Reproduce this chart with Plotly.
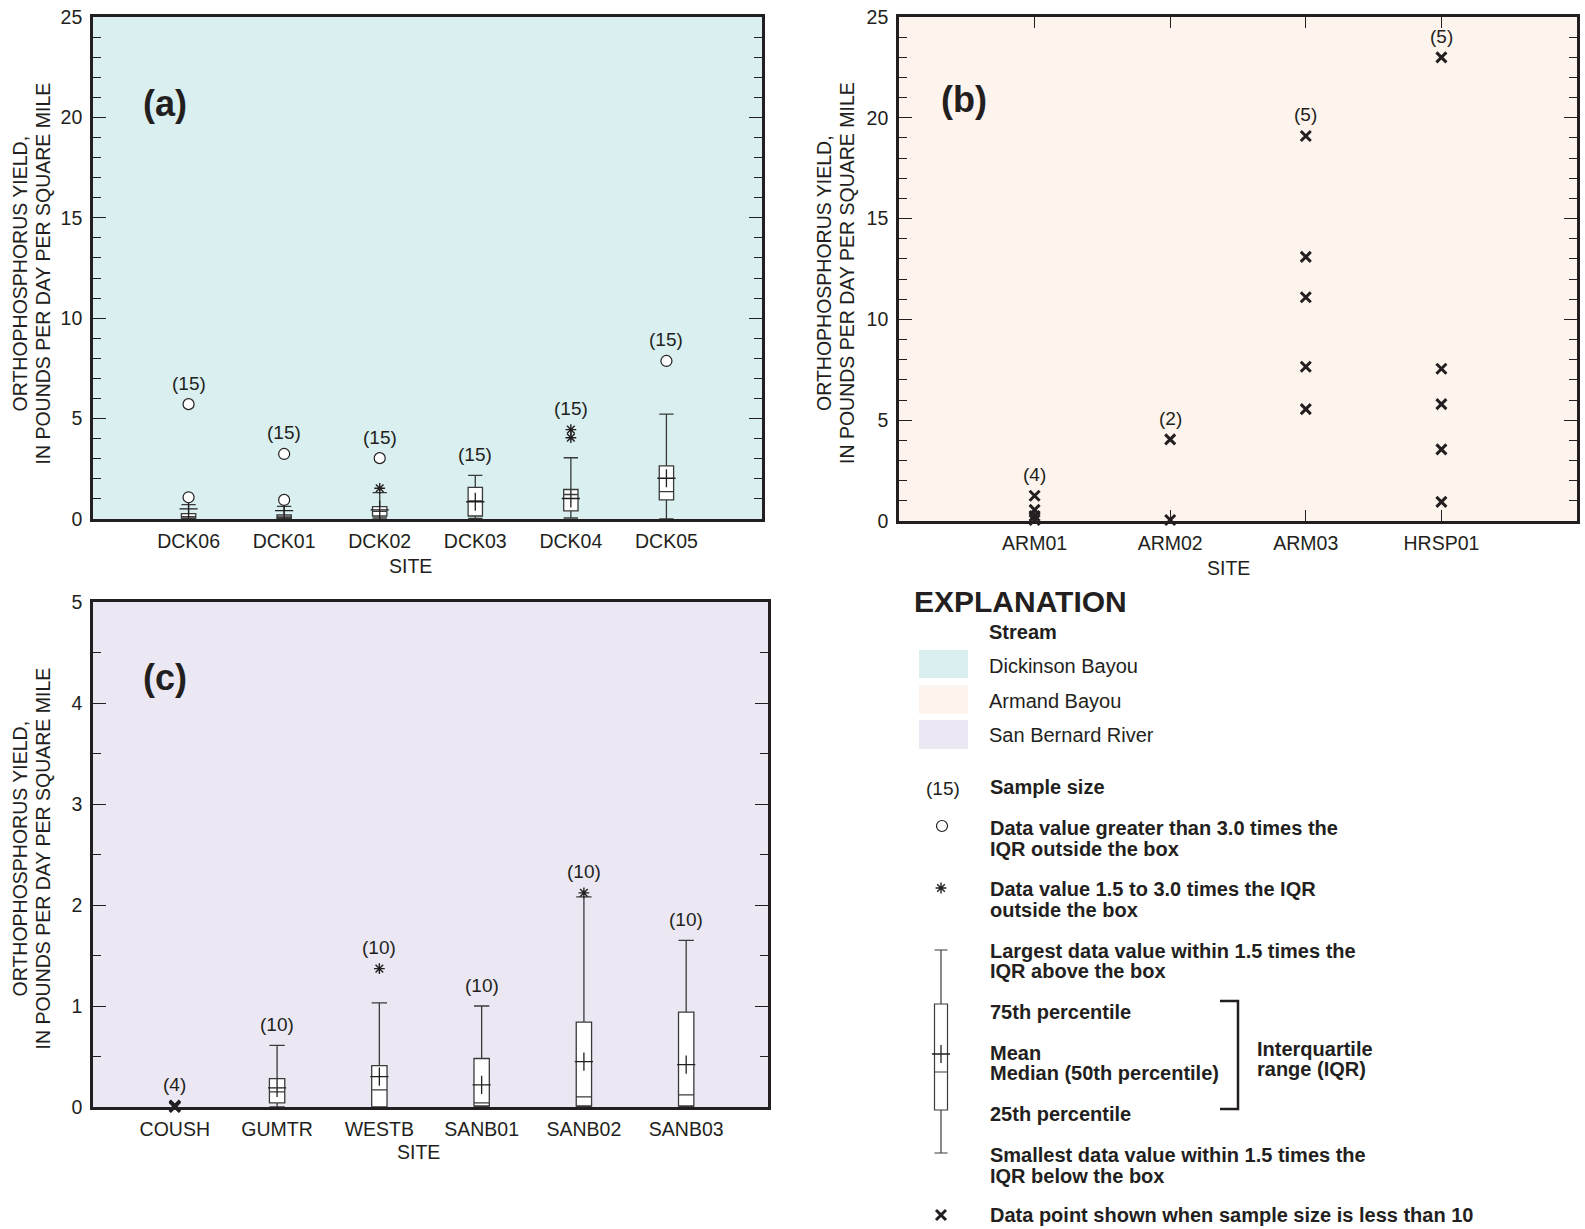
import plotly.graph_objects as go

W, H = 1585, 1229

# ---------------- Dickinson Bayou, panel (a) ----------------
dck_sites = ["DCK06", "DCK01", "DCK02", "DCK03", "DCK04", "DCK05"]
dck_n = [15, 15, 15, 15, 15, 15]
dck_q1 = [0.04, 0.03, 0.15, 0.15, 0.40, 0.95]
dck_median = [0.12, 0.10, 0.38, 0.90, 1.22, 1.36]
dck_q3 = [0.27, 0.20, 0.62, 1.57, 1.47, 2.65]
dck_mean = [0.50, 0.42, 0.45, 0.86, 1.02, 2.03]
dck_low = [0.0, 0.0, 0.05, 0.03, 0.05, 0.0]
dck_high = [0.72, 0.63, 1.31, 2.17, 3.05, 5.22]
# values more than 3.0 IQR outside the box
dck_far_site = ["DCK06", "DCK06", "DCK01", "DCK01", "DCK02", "DCK05"]
dck_far_val = [5.72, 1.08, 3.24, 0.95, 3.03, 7.87]
# values 1.5 to 3.0 IQR outside the box
dck_near_site = ["DCK02", "DCK04", "DCK04"]
dck_near_val = [1.53, 4.45, 4.05]

# ---------------- Armand Bayou, panel (b) ----------------
arm_sites = ["ARM01", "ARM02", "ARM03", "HRSP01"]
arm_n = [4, 2, 5, 5]
arm01_vals = [1.25, 0.55, 0.25, 0.05]
arm02_vals = [4.05, 0.05]
arm03_vals = [19.1, 13.1, 11.1, 7.65, 5.55]
hrsp01_vals = [23.0, 7.55, 5.8, 3.55, 0.95]

# ---------------- San Bernard River, panel (c) ----------------
sb_sites = ["COUSH", "GUMTR", "WESTB", "SANB01", "SANB02", "SANB03"]
sb_n = [4, 10, 10, 10, 10, 10]
sb_box_sites = ["GUMTR", "WESTB", "SANB01", "SANB02", "SANB03"]
sb_q1 = [0.04, 0.0, 0.01, 0.01, 0.01]
sb_median = [0.15, 0.17, 0.04, 0.10, 0.12]
sb_q3 = [0.28, 0.41, 0.48, 0.84, 0.94]
sb_mean = [0.19, 0.30, 0.22, 0.45, 0.42]
sb_low = [0.0, 0.0, 0.0, 0.0, 0.0]
sb_high = [0.61, 1.03, 1.00, 2.08, 1.65]
sb_near_site = ["WESTB", "SANB02"]
sb_near_val = [1.37, 2.12]
coush_vals = [0.015, 0.01, 0.005, 0.0]

# ---------------- explanation key (page pixel units) ----------------
key_x = 941
key_low, key_q1, key_median, key_mean, key_q3, key_high = 1153, 1110, 1072, 1054, 1004, 950

FONT = "Liberation Sans, Arial, Helvetica, sans-serif"
INK = "#231f20"
BOX_LINE = "#3a3a3a"
BG = {"a": "#d9eff0", "b": "#fef4ee", "c": "#ebe8f3"}


def py(pix):
    """Convert a page pixel row (from the top) to the key axis value."""
    return H - pix


fig = go.Figure()


def add_boxes(xa, ya, sites, q1, med, q3, low, high, width):
    fig.add_trace(go.Box(
        x=sites, q1=q1, median=med, q3=q3, lowerfence=low, upperfence=high,
        boxpoints=False, width=width, whiskerwidth=1.0,
        fillcolor="white", line=dict(color=BOX_LINE, width=1.3),
        xaxis=xa, yaxis=ya, hoverinfo="skip", showlegend=False,
    ))


def add_marks(xa, ya, xs, ys, symbol, size, lw, fill=INK):
    fig.add_trace(go.Scatter(
        x=xs, y=ys, mode="markers", cliponaxis=False,
        marker=dict(symbol=symbol, size=size, color=fill,
                    line=dict(color=INK, width=lw)),
        xaxis=xa, yaxis=ya, hoverinfo="skip", showlegend=False,
    ))


def add_means(xa, ya, xs, ys):
    add_marks(xa, ya, xs, ys, "cross-thin", 13, 1.3)


def add_counts(xa, ya, sites, tops, ns):
    for s, t, n in zip(sites, tops, ns):
        fig.add_annotation(x=s, y=t, xref=xa, yref=ya, text=f"({n})",
                           showarrow=False, yshift=21,
                           font=dict(family=FONT, size=19, color=INK))


# panel (a)
add_boxes("x", "y", dck_sites, dck_q1, dck_median, dck_q3, dck_low, dck_high, 0.15)
add_means("x", "y", dck_sites, dck_mean)
add_marks("x", "y", dck_far_site, dck_far_val, "circle", 11, 1.2, fill="white")
add_marks("x", "y", dck_near_site, dck_near_val, "asterisk", 9, 1.4)
dck_top = []
for s, h in zip(dck_sites, dck_high):
    others = [v for ss, v in zip(dck_far_site + dck_near_site, dck_far_val + dck_near_val) if ss == s]
    dck_top.append(max([h] + others))
add_counts("x", "y", dck_sites, dck_top, dck_n)

# panel (b)
arm_groups = [arm01_vals, arm02_vals, arm03_vals, hrsp01_vals]
for s, vals in zip(arm_sites, arm_groups):
    add_marks("x2", "y2", [s] * len(vals), vals, "x-thin", 10, 3)
add_counts("x2", "y2", arm_sites, [max(v) for v in arm_groups], arm_n)

# panel (c)
add_boxes("x3", "y3", sb_box_sites, sb_q1, sb_median, sb_q3, sb_low, sb_high, 0.15)
add_means("x3", "y3", sb_box_sites, sb_mean)
add_marks("x3", "y3", sb_near_site, sb_near_val, "asterisk", 9, 1.4)
add_marks("x3", "y3", ["COUSH"] * len(coush_vals), coush_vals, "x-thin", 10, 3)
sb_top = [max(coush_vals)]
for s, h in zip(sb_box_sites, sb_high):
    others = [v for ss, v in zip(sb_near_site, sb_near_val) if ss == s]
    sb_top.append(max([h] + others))
add_counts("x3", "y3", sb_sites, sb_top, sb_n)

# explanation key drawn on a page-sized hidden axis
fig.add_trace(go.Box(
    x=[key_x], q1=[py(key_q1)], median=[py(key_median)], q3=[py(key_q3)],
    lowerfence=[py(key_low)], upperfence=[py(key_high)],
    boxpoints=False, width=13, whiskerwidth=1.0,
    fillcolor="white", line=dict(color=BOX_LINE, width=1.2),
    xaxis="x4", yaxis="y4", hoverinfo="skip", showlegend=False,
))
add_means("x4", "y4", [key_x], [py(key_mean)])
add_marks("x4", "y4", [942], [py(826)], "circle", 11, 1.2, fill="white")
add_marks("x4", "y4", [941], [py(888)], "asterisk", 9, 1.4)
add_marks("x4", "y4", [941], [py(1215)], "x-thin", 10, 3)


def text(x, ypix, s, size=20, bold=False, anchor="left", angle=0):
    fig.add_annotation(
        x=x, y=py(ypix), xref="x4", yref="y4", text=f"<b>{s}</b>" if bold else s,
        showarrow=False, xanchor=anchor, yanchor="middle", textangle=angle,
        font=dict(family=FONT, size=size, color=INK),
    )


# y-axis titles and site labels
for cx1, cx2, cy in [(19.5, 42.5, 274), (824, 847, 273), (19.5, 42.5, 859)]:
    text(cx1, cy, "ORTHOPHOSPHORUS YIELD,", size=19.5, anchor="center", angle=-90)
    text(cx2, cy, "IN POUNDS PER DAY PER SQUARE MILE", size=19.5, anchor="center", angle=-90)
text(410, 566, "SITE", size=19.5, anchor="center")
text(1228, 568, "SITE", size=19.5, anchor="center")
text(418, 1152, "SITE", size=19.5, anchor="center")

# panel letters
text(165, 103, "(a)", size=36, bold=True, anchor="center")
text(964, 99, "(b)", size=36, bold=True, anchor="center")
text(165, 677, "(c)", size=36, bold=True, anchor="center")

# explanation text
text(912, 601, "EXPLANATION", size=30, bold=True)
text(987, 632, "Stream", bold=True)
text(987, 666, "Dickinson Bayou")
text(987, 701, "Armand Bayou")
text(987, 735, "San Bernard River")
text(943, 788, "(15)", size=19, anchor="center")
text(988, 787, "Sample size", bold=True)
text(988, 828, "Data value greater than 3.0 times the", bold=True)
text(988, 849, "IQR outside the box", bold=True)
text(988, 889, "Data value 1.5 to 3.0 times the IQR", bold=True)
text(988, 910, "outside the box", bold=True)
text(988, 951, "Largest data value within 1.5 times the", bold=True)
text(988, 971, "IQR above the box", bold=True)
text(988, 1012, "75th percentile", bold=True)
text(988, 1053, "Mean", bold=True)
text(988, 1073, "Median (50th percentile)", bold=True)
text(988, 1114, "25th percentile", bold=True)
text(1255, 1049, "Interquartile", bold=True)
text(1255, 1069, "range (IQR)", bold=True)
text(988, 1155, "Smallest data value within 1.5 times the", bold=True)
text(988, 1176, "IQR below the box", bold=True)
text(988, 1215, "Data point shown when sample size is less than 10", bold=True)

# stream swatches and IQR bracket
for (top, bot), col in zip([(650, 678), (685, 714), (720, 749)], [BG["a"], BG["b"], BG["c"]]):
    fig.add_shape(type="rect", xref="x4", yref="y4", x0=919, x1=968,
                  y0=py(bot), y1=py(top), fillcolor=col, line=dict(width=0))
fig.add_shape(type="path", xref="x4", yref="y4",
              path=f"M 1220 {py(1001)} L 1238 {py(1001)} L 1238 {py(1109)} L 1220 {py(1109)}",
              line=dict(color=INK, width=2.5))

# panel backgrounds
for xr, yr, col in [("x", "y", BG["a"]), ("x2", "y2", BG["b"]), ("x3", "y3", BG["c"])]:
    fig.add_shape(type="rect", xref=f"{xr} domain", yref=f"{yr} domain",
                  x0=0, x1=1, y0=0, y1=1, fillcolor=col, line=dict(width=0), layer="below")

tickfont = dict(family=FONT, size=19.5, color=INK)


def xax(dom, cats, rng, ticks):
    return dict(domain=dom, type="category", categoryorder="array", categoryarray=cats,
                range=rng, showline=True, linewidth=2.6, linecolor=INK, mirror="allticks",
                ticks="inside" if ticks else "", ticklen=11, tickwidth=1.2, tickcolor=INK,
                tickfont=tickfont, showgrid=False, zeroline=False, fixedrange=True,
                ticklabelstandoff=3, automargin=False)


def yax(dom, rng, dtick, minor):
    return dict(domain=dom, range=rng, dtick=dtick, tick0=0, showline=True, linewidth=2.6,
                linecolor=INK, mirror="allticks", ticks="inside", ticklen=13, tickwidth=1.2,
                tickcolor=INK, tickfont=tickfont, showgrid=False, zeroline=False,
                minor=dict(dtick=minor, ticks="inside", ticklen=8, tickwidth=1.2,
                           tickcolor=INK, showgrid=False),
                fixedrange=True, ticklabelstandoff=4, automargin=False)


fig.update_layout(
    width=W, height=H,
    margin=dict(l=0, r=0, t=0, b=0, pad=0, autoexpand=False),
    paper_bgcolor="white", plot_bgcolor="rgba(0,0,0,0)",
    font=dict(family=FONT, color=INK),
    showlegend=False, boxmode="overlay",
    xaxis=dict(xax([93 / W, 762 / W], dck_sites, [-1, 6], False), anchor="y"),
    yaxis=dict(yax([1 - 519 / H, 1 - 17 / H], [0, 25], 5, 1), anchor="x"),
    xaxis2=dict(xax([899 / W, 1577 / W], arm_sites, [-1, 4], True), anchor="y2"),
    yaxis2=dict(yax([1 - 521 / H, 1 - 17 / H], [0, 25], 5, 1), anchor="x2"),
    xaxis3=dict(xax([93 / W, 768 / W], sb_sites, [-0.8, 5.8], False), anchor="y3"),
    yaxis3=dict(yax([1 - 1107 / H, 1 - 602 / H], [0, 5], 1, 0.5), anchor="x3"),
    xaxis4=dict(domain=[0, 1], range=[0, W], visible=False, fixedrange=True,
                anchor="y4", automargin=False),
    yaxis4=dict(domain=[0, 1], range=[0, H], visible=False, fixedrange=True,
                anchor="x4", automargin=False),
)

fig.write_html("out.html")
